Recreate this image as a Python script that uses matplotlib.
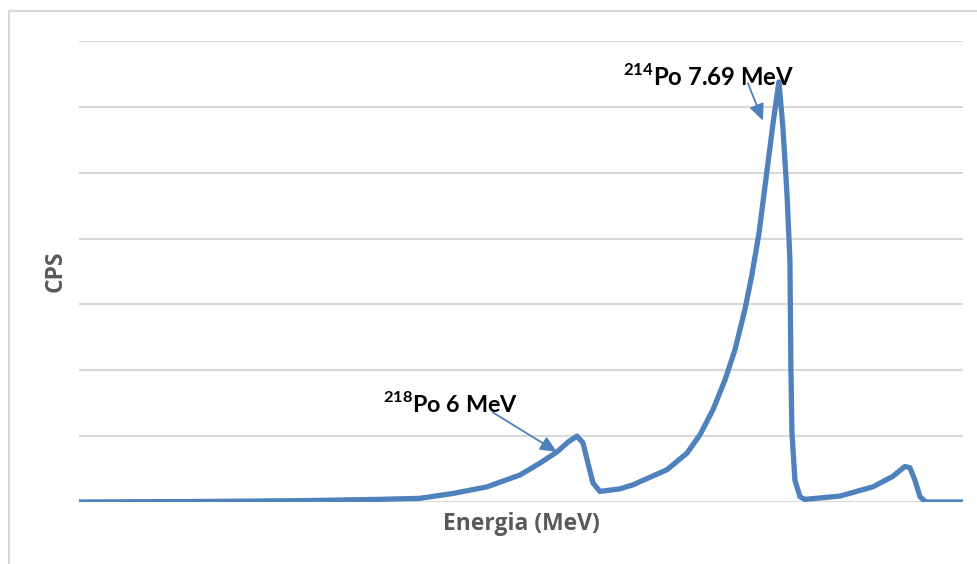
import matplotlib.pyplot as plt
from matplotlib.patches import Rectangle

plt.rcParams['mathtext.fontset'] = 'custom'
plt.rcParams['mathtext.rm'] = 'Lato:bold'
plt.rcParams['mathtext.bf'] = 'Lato:bold'

# Alpha spectrum (energy in MeV, counts per second in arbitrary gridline units)
energy = [1.834, 2.846, 3.683, 4.352, 4.687, 4.963, 5.247, 5.523, 5.690, 5.833,
          5.925, 6.000, 6.050, 6.092, 6.134, 6.192, 6.360, 6.468, 6.753, 6.920,
          7.029, 7.138, 7.238, 7.322, 7.405, 7.464, 7.523, 7.581, 7.640, 7.690,
          7.723, 7.757, 7.782, 7.790, 7.799, 7.824, 7.866, 7.907, 8.200, 8.476,
          8.643, 8.744, 8.786, 8.828, 8.870, 8.920, 9.230]
cps = [0.000, 0.008, 0.020, 0.040, 0.056, 0.130, 0.230, 0.410, 0.590, 0.760,
       0.910, 1.000, 0.900, 0.590, 0.290, 0.160, 0.200, 0.260, 0.490, 0.740,
       1.020, 1.400, 1.850, 2.310, 2.920, 3.450, 4.080, 4.900, 5.740, 6.380,
       5.690, 4.690, 3.670, 2.050, 1.050, 0.330, 0.080, 0.040, 0.090, 0.230,
       0.390, 0.540, 0.520, 0.330, 0.080, 0.000, 0.000]

blue = '#4f81bd'
grid = '#d9d9d9'

fig = plt.figure(figsize=(9.78, 5.64), dpi=100)
ax = fig.add_axes([79 / 978, 1 - 502 / 564, (963 - 79) / 978, (502 - 41) / 564])

# chart border (cut at right/bottom like the reference)
fig.patches.append(Rectangle((9 / 978, -0.1), 1.2, 1 - 11 / 564 + 0.1,
                             transform=fig.transFigure, fill=False,
                             edgecolor=grid, linewidth=1.5))

ax.plot(energy, cps, color=blue, linewidth=3.8, solid_joinstyle='round',
        solid_capstyle='butt', zorder=3)

ax.set_xlim(energy[0], energy[-1])
ax.set_ylim(0, 7)
ax.set_yticks(range(0, 8))
ax.set_xticks([])
ax.tick_params(axis='y', length=0, labelleft=False)
ax.grid(axis='y', color=grid, linewidth=1.5)
ax.set_axisbelow(True)
for s in ax.spines.values():
    s.set_visible(False)

ax.set_xlabel('Energia (MeV)', fontname='Open Sans', fontweight='bold',
              fontsize=16.5, color='#595959', labelpad=7)
ax.set_ylabel('CPS', fontname='Open Sans', fontweight='bold',
              fontsize=16.5, color='#595959', labelpad=8)

ax.text(4.377, 1.36, r'$^{218}$Po 6 MeV', fontname='Lato', fontweight='bold',
        fontsize=16.8, ha='left', va='baseline', color='black', zorder=5)
ax.text(6.385, 6.32, r'$^{214}$Po 7.69 MeV', fontname='Lato', fontweight='bold',
        fontsize=17.2, ha='left', va='baseline', color='black', zorder=5)

arrow = dict(arrowstyle='-|>,head_length=1.0,head_width=0.45', color=blue,
             linewidth=1.3, shrinkA=0, shrinkB=0)
ax.annotate('', xy=(5.833, 0.76), xytext=(5.297, 1.36), arrowprops=arrow, zorder=4)
ax.annotate('', xy=(7.556, 5.79), xytext=(7.43, 6.36), arrowprops=arrow, zorder=4)

fig.savefig('out.png', dpi=100)
